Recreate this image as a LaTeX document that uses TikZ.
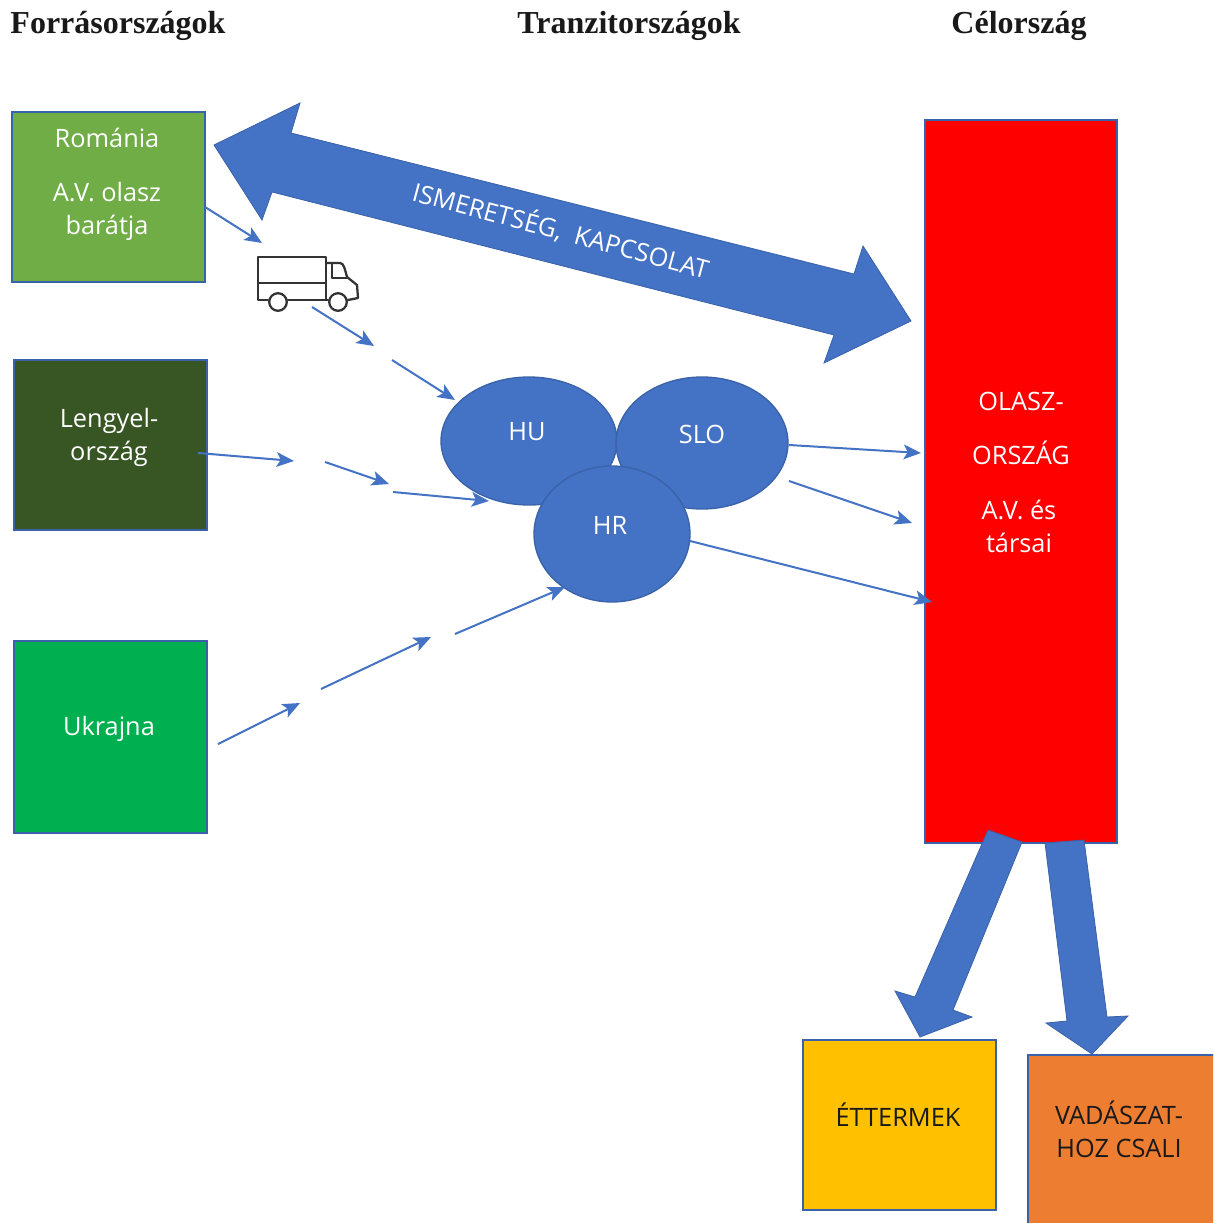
\documentclass[tikz,border=0pt]{standalone}
\usepackage{fontspec}
\setmainfont{Open Sans}
\newfontfamily\titlefont{Liberation Serif}[BoldFont={Liberation Serif Bold}]
\usetikzlibrary{arrows.meta,shapes.geometric}
\definecolor{ablue}{HTML}{4472C4}
\definecolor{edgeblue}{HTML}{3A62A8}
\definecolor{gromania}{HTML}{70AD47}
\definecolor{gpoland}{HTML}{375623}
\definecolor{gukraine}{HTML}{00B050}
\definecolor{yrest}{HTML}{FFC000}
\definecolor{obait}{HTML}{ED7D31}
\tikzset{
  box/.style={draw=edgeblue,line width=1.2pt,anchor=north west,inner sep=0pt,outer sep=0pt},
  blob/.style={ellipse,fill=ablue,draw=edgeblue,line width=1pt,inner sep=0pt,outer sep=0pt,text=white},
  conn/.style={draw=ablue,line width=1.5pt,-{Stealth[length=13pt,width=11pt,inset=3pt]}},
  blockarrow/.style={fill=ablue,draw=edgeblue,line width=0.6pt,line join=miter},
  ttl/.style={font=\titlefont\bfseries\fontsize{24}{28}\selectfont,text=black!90},
  wlabel/.style={text=white,align=center,font=\fontsize{19}{24.7}\selectfont},
  dlabel/.style={text=black!90,align=center,font=\fontsize{19}{24.7}\selectfont},
  truckline/.style={draw=black!80,line width=1.7pt,line join=round,line cap=round}
}
\begin{document}
\begin{tikzpicture}[x=0.75pt,y=-0.75pt]
\useasboundingbox (0,0) rectangle (1213,1223);
\clip (0,0) rectangle (1213,1223);
% titles
\node[ttl] (t1) at (118,26) {Forrásországok};
\node[ttl] (t2) at (629,26) {Tranzitországok};
\node[ttl] (t3) at (1019,26) {Célország};
% boxes
\node[box,fill=gromania,minimum width=144.75pt,minimum height=127.5pt] (rom) at (12,112) {};
\node[box,fill=gpoland,minimum width=144.75pt,minimum height=127.5pt] (pol) at (14,360) {};
\node[box,fill=gukraine,minimum width=144.75pt,minimum height=144pt] (ukr) at (14,641) {};
\node[box,fill=red,minimum width=144pt,minimum height=542.25pt] (ita) at (925,120) {};
\node[box,fill=yrest,minimum width=144.75pt,minimum height=127.5pt] (rest) at (803,1040) {};
\node[box,fill=obait,minimum width=140pt,minimum height=135pt] (bait) at (1028,1055) {};
% box labels
\node[wlabel] (l1) at (107,138) {Románia};
\node[wlabel] (l2) at (107,211) {A.V. olasz\\barátja};
\node[wlabel] (l3) at (109,437) {Lengyel-\\ország};
\node[wlabel] (l4) at (109,729) {Ukrajna};
\node[wlabel] (l5) at (1021,401) {OLASZ-};
\node[wlabel] (l6) at (1021,453) {ORSZÁG};
\node[wlabel] (l7) at (1019,526) {A.V. és\\társai};
\node[dlabel] (l8) at (898,1115) {ÉTTERMEK};
\node[dlabel] (l9) at (1119,1129) {VADÁSZAT-\\HOZ CSALI};
% ellipses
\node[blob,minimum width=132pt,minimum height=96pt] (hu) at (529,441) {};
\node[blob,minimum width=129pt,minimum height=99pt] (slo) at (702,443) {};
\node[blob,minimum width=117pt,minimum height=102pt] (hr) at (612,534) {};
\node[text=white,font=\fontsize{19}{22}\selectfont] (tu) at (527,432) {HU};
\node[text=white,font=\fontsize{19}{22}\selectfont] (ts) at (702,434) {SLO};
\node[text=white,font=\fontsize{19}{22}\selectfont] (th) at (610,525) {HR};
% big double arrow
\draw[blockarrow] (214,145) -- (300,103) -- (291,133) -- (854,274) -- (863,246) -- (911,321)
  -- (824,363) -- (834,335) -- (272,192) -- (262,220) -- cycle;
\node[text=white,rotate=-15,font=\fontsize{19}{22}\selectfont] (link) at (561,230) {ISMERETSÉG,\ \ KAPCSOLAT};
% lower block arrows
\draw[blockarrow] (988,830) -- (1022,842) -- (953,1010) -- (972,1017) -- (920,1037) -- (895,991) -- (915,997) -- cycle;
\draw[blockarrow] (1045,843) -- (1084,840) -- (1107,1017) -- (1128,1016) -- (1092,1054) -- (1046,1023) -- (1067,1021) -- cycle;
% free ends of the thin connectors
\coordinate (a1s) at (205,207); \coordinate (a1e) at (262,243);
\coordinate (a2s) at (312,307); \coordinate (a2e) at (374,346);
\coordinate (a3s) at (392,360); \coordinate (a3e) at (455,400);
\coordinate (b1s) at (198,453); \coordinate (b1e) at (294,461);
\coordinate (b2s) at (325,462); \coordinate (b2e) at (389,484);
\coordinate (b3s) at (393,492); \coordinate (b3e) at (489,501);
\coordinate (c1s) at (218,744); \coordinate (c1e) at (300,703);
\coordinate (c2s) at (321,689); \coordinate (c2e) at (431,637);
\coordinate (c3s) at (455,634); \coordinate (c3e) at (565,587);
\coordinate (d1s) at (789,445); \coordinate (d1e) at (921,453);
\coordinate (d2s) at (789,481); \coordinate (d2e) at (912,523);
\coordinate (d3s) at (690,541); \coordinate (d3e) at (932,602);
\foreach \n in {a1,a2,a3,b1,b2,b3,c1,c2,c3,d1,d2,d3}{\draw[conn] (\n s) -- (\n e);}
% truck
\draw[truckline] (268,300) -- (258,300) -- (258,257) -- (326,257) -- (326,300) -- (288,300);
\draw[truckline] (258,283) -- (326,283);
\draw[truckline] (326,263) -- (340,263) .. controls (344,263) and (345,270) .. (347,277) -- (357,285) -- (358,298) -- (348,300);
\draw[truckline] (326,300) -- (328,300);
\draw[truckline] (332,264) -- (332,278) -- (347,278);
\draw[truckline] (278,302) circle [radius=6.6pt];
\draw[truckline] (338,302) circle [radius=6.6pt];
\end{tikzpicture}
\end{document}
